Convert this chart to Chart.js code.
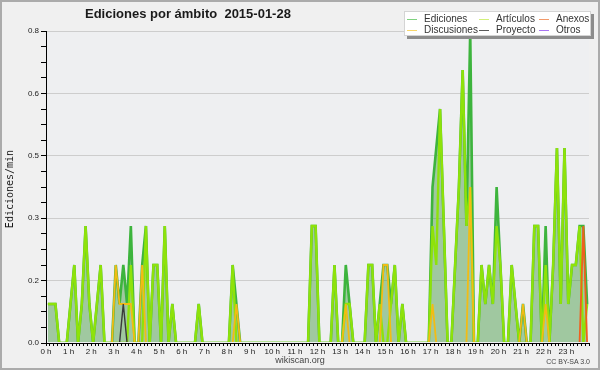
<!DOCTYPE html>
<html>
<head>
<meta charset="utf-8">
<script src="https://cdn.jsdelivr.net/npm/chart.js@4"></script>
<style>
html,body{margin:0;padding:0;}
body{width:600px;height:370px;overflow:hidden;background:#f0f0f0;}
#wrap{position:relative;width:600px;height:370px;}
#frame{position:absolute;left:0;top:0;width:600px;height:370px;box-sizing:border-box;border:2px solid #ababab;pointer-events:none;}
canvas{position:absolute;left:0;top:0;}
.t{position:absolute;white-space:nowrap;}
#title{left:85px;top:7px;font:bold 13px "Liberation Sans",Arial,sans-serif;line-height:13px;color:#1a1a1a;}
#ytitle{left:-50px;top:183px;width:120px;text-align:center;font:10px "DejaVu Sans Mono",monospace;line-height:12px;color:#1a1a1a;transform:rotate(-90deg);}
#site{left:250px;width:100px;text-align:center;top:356px;font:9px "Liberation Sans",Arial,sans-serif;line-height:9px;color:#444;}
#cc{right:10px;top:358px;font:7px "Liberation Sans",Arial,sans-serif;line-height:7px;color:#444;}
#legend{position:absolute;left:404px;top:11px;width:187px;height:25px;background:#fff;border:1px solid #d4d4d4;box-shadow:3px 3px 0 #8c8c8c;box-sizing:border-box;}
.li{position:absolute;font:10px "Liberation Sans",Arial,sans-serif;line-height:10px;color:#333;}
.sw{position:absolute;width:10px;height:1px;}
</style>
</head>
<body>
<div id="wrap">
<canvas id="c" width="600" height="370"></canvas>
<div class="t" id="title">Ediciones por ámbito&nbsp;&nbsp;2015-01-28</div>
<div class="t" id="ytitle">Ediciones/min</div>
<div class="t" id="site">wikiscan.org</div>
<div class="t" id="cc">CC BY-SA 3.0</div>
<div id="legend"></div>
<div id="frame"></div>
</div>
<script>
// 10-minute bins, one row per hour (6 values)
const seriesNames = ["Ediciones", "Artículos", "Anexos", "Discusiones", "Proyecto", "Otros"];
const hourLabels = ["0 h","1 h","2 h","3 h","4 h","5 h","6 h","7 h","8 h","9 h","10 h","11 h","12 h","13 h","14 h","15 h","16 h","17 h","18 h","19 h","20 h","21 h","22 h","23 h"];
const yTickLabels = ["0.0","0.2","0.3","0.5","0.6","0.8"];

const ediciones = [
  0.1,0.1,0.1,0,0,0,
  0.1,0.2,0,0.1,0.3,0.1,
  0,0.1,0.2,0,0,0,
  0.2,0.1,0.2,0.1,0.3,0,
  0,0.2,0.3,0,0.2,0.2,
  0,0.3,0,0.1,0,0,
  0,0,0,0,0.1,0,
  0,0,0,0,0,0,
  0,0.2,0.1,0,0,0,
  0,0,0,0,0,0,
  0,0,0,0,0,0,
  0,0,0,0,0.3,0.3,
  0,0,0,0,0.2,0,
  0,0.2,0.1,0,0,0,
  0,0.2,0.2,0,0.1,0.2,
  0.2,0.1,0.2,0,0.1,0,
  0,0,0,0,0,0,
  0.4,0.5,0.6,0.3,0,0,
  0.2,0.4,0.7,0.3,0.8,0,
  0,0.2,0.1,0.2,0.1,0.4,
  0.2,0,0,0.2,0.1,0,
  0.1,0,0,0.3,0.3,0,
  0.3,0,0.2,0.5,0.1,0.5,
  0.1,0.2,0.2,0.3,0.3,0.1
];
const articulos = [
  0.1,0.1,0.1,0,0,0,
  0.1,0.2,0,0.1,0.3,0.1,
  0,0.1,0.2,0,0,0,
  0,0,0,0,0.2,0,
  0,0,0.3,0,0.2,0.2,
  0,0.3,0,0.1,0,0,
  0,0,0,0,0.1,0,
  0,0,0,0,0,0,
  0,0.2,0,0,0,0,
  0,0,0,0,0,0,
  0,0,0,0,0,0,
  0,0,0,0,0.3,0.3,
  0,0,0,0,0.2,0,
  0,0.1,0.1,0,0,0,
  0,0.2,0.2,0,0.1,0,
  0,0.1,0.2,0,0.1,0,
  0,0,0,0,0,0,
  0.3,0.2,0.6,0.3,0,0,
  0.2,0.4,0.7,0.3,0.4,0,
  0,0.2,0.1,0.2,0.1,0.3,
  0.2,0,0,0.2,0.1,0,
  0,0,0,0.3,0.3,0,
  0.2,0,0.2,0.5,0.1,0.5,
  0.1,0.2,0.2,0.3,0,0.1
];
const anexos = [
  0,0,0,0,0,0, 0,0,0,0,0,0, 0,0,0,0,0,0, 0,0,0,0,0,0,
  0,0,0,0,0,0, 0,0,0,0,0,0, 0,0,0,0,0,0, 0,0,0,0,0,0,
  0,0,0,0,0,0, 0,0,0,0,0,0, 0,0,0,0,0,0, 0,0,0,0,0,0,
  0,0,0,0,0,0, 0,0,0,0,0,0, 0,0,0,0,0,0, 0,0,0,0,0,0,
  0,0,0,0,0,0, 0,0,0,0,0,0, 0,0,0,0,0,0, 0,0,0,0,0,0,
  0,0,0,0,0,0, 0,0,0,0,0,0, 0,0,0,0,0,0, 0,0,0,0,0.3,0
];
const discusiones = [
  0,0,0,0,0,0,
  0,0,0,0,0,0,
  0,0,0,0,0,0,
  0.2,0.1,0.1,0.1,0.1,0,
  0,0.2,0,0,0,0,
  0,0,0,0,0,0,
  0,0,0,0,0,0,
  0,0,0,0,0,0,
  0,0,0.1,0,0,0,
  0,0,0,0,0,0,
  0,0,0,0,0,0,
  0,0,0,0,0,0,
  0,0,0,0,0,0,
  0,0.1,0,0,0,0,
  0,0,0,0,0,0.2,
  0.2,0,0,0,0,0,
  0,0,0,0,0,0,
  0.1,0,0,0,0,0,
  0,0,0,0,0.4,0,
  0,0,0,0,0,0,
  0,0,0,0,0,0,
  0.1,0,0,0,0,0,
  0.1,0,0,0,0,0,
  0,0,0,0,0,0
];
const proyecto = [
  0,0,0,0,0,0, 0,0,0,0,0,0, 0,0,0,0,0,0, 0,0,0.1,0,0,0,
  0,0,0,0,0,0, 0,0,0,0,0,0, 0,0,0,0,0,0, 0,0,0,0,0,0,
  0,0,0,0,0,0, 0,0,0,0,0,0, 0,0,0,0,0,0, 0,0,0,0,0,0,
  0,0,0,0,0,0, 0,0,0,0,0,0, 0,0,0,0,0,0, 0,0,0,0,0,0,
  0,0,0,0,0,0, 0,0,0,0,0,0, 0,0,0,0,0,0, 0,0,0,0,0,0,
  0,0,0,0,0,0, 0,0,0,0,0,0, 0,0,0,0,0,0, 0,0,0,0,0,0
];
const otros = [
  0,0,0,0,0,0, 0,0,0,0,0,0, 0,0,0,0,0,0, 0,0,0,0,0,0,
  0,0,0,0,0,0, 0,0,0,0,0,0, 0,0,0,0,0,0, 0,0,0,0,0,0,
  0,0,0,0,0,0, 0,0,0,0,0,0, 0,0,0,0,0,0, 0,0,0,0,0,0,
  0,0,0,0,0,0, 0,0,0,0,0,0, 0,0,0,0,0,0, 0,0,0,0,0,0,
  0,0,0,0,0,0, 0,0,0,0,0,0, 0,0,0,0,0,0, 0,0,0,0,0,0,
  0,0,0,0,0,0, 0,0,0,0,0,0, 0,0,0,0,0,0, 0,0,0,0,0,0
];

const BIN = 10; // minutes per bin, points at bin centres
const pts = arr => arr.map((v, i) => ({ x: i * BIN + BIN / 2, y: v }));

const styles = {
  "Ediciones":   { line: "#3db43d", sw: "#7fd27f", width: 2.6, order: 5 },
  "Artículos":   { line: "#8ee20a", sw: "#d2f07a", width: 2.4, order: 4 },
  "Anexos":      { line: "#f0601e", sw: "#f29a6a", width: 1.8, order: 1 },
  "Discusiones": { line: "#f2bc14", sw: "#f8d66a", width: 1.8, order: 2 },
  "Proyecto":    { line: "#3a3a3a", sw: "#5a5a5a", width: 1.4, order: 0 },
  "Otros":       { line: "#9a44f0", sw: "#a874f2", width: 1.4, order: 3 }
};
const values = { "Ediciones": ediciones, "Artículos": articulos, "Anexos": anexos,
                 "Discusiones": discusiones, "Proyecto": proyecto, "Otros": otros };

const clipBox = { left: 3, top: 3, right: 3, bottom: -1 };
const datasets = seriesNames.map(n => ({
  label: n,
  data: pts(values[n]),
  borderColor: styles[n].line,
  borderWidth: styles[n].width,
  backgroundColor: n === "Ediciones" ? "rgba(65,152,61,0.45)" : "rgba(0,0,0,0)",
  fill: n === "Ediciones" ? "origin" : false,
  order: styles[n].order,
  clip: clipBox,
  pointRadius: 0,
  tension: 0
}));

const isMajor = v => Math.abs(v / 0.16 - Math.round(v / 0.16)) < 1e-6;

const bgPlugin = {
  id: 'plotbg',
  beforeDraw(chart) {
    const { ctx, chartArea: a } = chart;
    ctx.save();
    ctx.fillStyle = '#eeeff1';
    ctx.fillRect(a.left, a.top, a.right - a.left, a.bottom - a.top);
    ctx.restore();
  }
};

new Chart(document.getElementById('c'), {
  type: 'line',
  data: { datasets },
  plugins: [bgPlugin],
  options: {
    responsive: false,
    animation: false,
    events: [],
    layout: { padding: { left: 0, right: 11, top: 31, bottom: 0 } },
    plugins: { legend: { display: false }, title: { display: false }, tooltip: { enabled: false } },
    scales: {
      x: {
        type: 'linear', min: 0, max: 24 * 60, z: 1,
        afterFit: s => { s.height = 27; },
        grid: { drawOnChartArea: false, drawTicks: true, tickLength: 3, tickColor: '#000', color: '#000' },
        border: { display: true, color: '#000', width: 1 },
        ticks: {
          stepSize: BIN, autoSkip: false, maxRotation: 0, minRotation: 0, maxTicksLimit: 1000, padding: 1,
          font: { family: 'Liberation Sans', size: 8 }, color: '#222',
          callback: v => (v % 60 === 0 && v < 1440) ? hourLabels[v / 60] : ''
        }
      },
      y: {
        min: 0, max: 0.8,
        afterFit: s => { s.width = 46; },
        grid: {
          color: c => (c.tick && isMajor(c.tick.value)) ? '#cdcdcd' : 'rgba(0,0,0,0)',
          tickColor: '#000', tickLength: 5, drawOnChartArea: true, drawTicks: true
        },
        border: { display: true, color: '#000', width: 1 },
        ticks: {
          stepSize: 0.04, autoSkip: false, padding: 2, maxTicksLimit: 1000,
          font: { family: 'Liberation Sans', size: 8 }, color: '#222',
          callback: v => isMajor(v) ? yTickLabels[Math.round(v / 0.16)] : ''
        }
      }
    }
  }
});

// HTML legend (3 columns x 2 rows) built from the series names
const legend = document.getElementById('legend');
const colX = [2, 74, 134], rowY = [6, 17];
const legendGrid = [["Ediciones","Artículos","Anexos"],["Discusiones","Proyecto","Otros"]];
legendGrid.forEach((rowNames, row) => rowNames.forEach((name, col) => {
  const sw = document.createElement('div');
  sw.className = 'sw';
  sw.style.left = colX[col] + 'px';
  sw.style.top = (rowY[row] + 1) + 'px';
  sw.style.background = styles[name].sw;
  legend.appendChild(sw);
  const tx = document.createElement('div');
  tx.className = 'li';
  tx.style.left = (colX[col] + 17) + 'px';
  tx.style.top = (rowY[row] - 4) + 'px';
  tx.textContent = name;
  legend.appendChild(tx);
}));
</script>
</body>
</html>
